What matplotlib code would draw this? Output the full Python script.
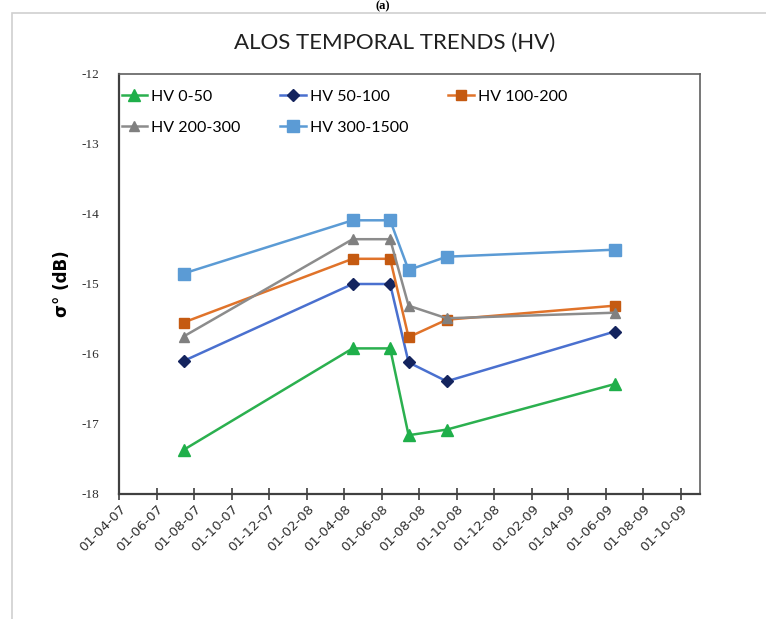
import matplotlib
matplotlib.use("Agg")
import matplotlib.pyplot as plt
import matplotlib.dates as mdates
from matplotlib.patches import Rectangle
import numpy as np

plt.rcParams["axes.unicode_minus"] = False

# 数据
dates = np.array(["2007-07-15", "2008-04-15", "2008-06-15",
                  "2008-07-15", "2008-09-15", "2009-06-15"], dtype="datetime64[D]")
hv_0_50 = [-17.37, -15.92, -15.92, -17.16, -17.08, -16.43]
hv_50_100 = [-16.10, -15.00, -15.00, -16.12, -16.39, -15.68]
hv_100_200 = [-15.55, -14.64, -14.64, -15.76, -15.51, -15.31]
hv_200_300 = [-15.75, -14.36, -14.36, -15.31, -15.49, -15.41]
hv_300_1500 = [-14.85, -14.09, -14.09, -14.80, -14.61, -14.51]

series = [
    ("HV 0-50", hv_0_50, "#2BB04F", "#1FAF4A", "^", 8),
    ("HV 50-100", hv_50_100, "#4A70CF", "#14245E", "D", 6.5),
    ("HV 100-200", hv_100_200, "#E0732A", "#C55A11", "s", 7),
    ("HV 200-300", hv_200_300, "#8C8C8C", "#808080", "^", 7.5),
    ("HV 300-1500", hv_300_1500, "#5B9BD5", "#5B9BD5", "s", 8.5),
]

fig = plt.figure(figsize=(7.66, 6.19), dpi=100)
ax = fig.add_axes([119 / 766, 1 - 494 / 619, (700 - 119) / 766, (494 - 74) / 619])

# 外框
fig.patches.append(Rectangle((12 / 766, -0.1), 1.2, (619 - 13) / 619 + 0.1,
                             transform=fig.transFigure, fill=False,
                             edgecolor="#D0D0D0", linewidth=1.2))

handles = []
for label, vals, lc, mc, mk, ms in series:
    h, = ax.plot(dates, vals, color=lc, linewidth=1.8, marker=mk, markersize=ms,
                 markerfacecolor=mc, markeredgecolor=mc, label=label)
    handles.append(h)

ax.set_xlim(np.datetime64("2007-04-01"), np.datetime64("2009-11-01"))
ax.set_ylim(-18, -12)
ax.xaxis.set_major_locator(mdates.MonthLocator(bymonth=[2, 4, 6, 8, 10, 12], bymonthday=1))
ax.xaxis.set_major_formatter(mdates.DateFormatter("%d-%m-%y"))
ax.set_yticks(np.arange(-18, -11, 1))

for lab in ax.get_xticklabels():
    lab.set_rotation(45)
    lab.set_ha("right")
    lab.set_rotation_mode("anchor")
    lab.set_fontsize(9.5)
    lab.set_color("#303030")
ax.tick_params(axis="x", direction="inout", length=8, width=1.2, color="#404040", pad=2)
ax.tick_params(axis="y", length=0, pad=14, labelsize=9.5, labelcolor="#303030")
for lab in ax.get_yticklabels():
    lab.set_family("Liberation Serif")

for side in ["left", "bottom"]:
    ax.spines[side].set_color("#404040")
    ax.spines[side].set_linewidth(1.6)
for side in ["top", "right"]:
    ax.spines[side].set_color("#606060")
    ax.spines[side].set_linewidth(1.2)

ax.set_ylabel("σ° (dB)", fontsize=12, fontweight="bold", labelpad=8)

order = [0, 3, 1, 4, 2]
leg = ax.legend([handles[i] for i in order], [series[i][0] for i in order],
                ncol=3, loc="upper left", bbox_to_anchor=(-0.012, 0.985),
                frameon=False, handlelength=1.6, handletextpad=0.25,
                columnspacing=2.5, labelspacing=1.05, borderaxespad=0.2,
                prop={"family": "Lato", "size": 11.5})

fig.text(395 / 766, 1 - 43 / 619, "ALOS TEMPORAL TRENDS (HV)", ha="center", va="center",
         fontsize=16, family="Lato", color="#202020")
fig.text(0.5, 0.999, "(a)", ha="center", va="top", fontsize=9,
         fontweight="bold", family="Liberation Serif")

fig.savefig("out.png", dpi=100)
